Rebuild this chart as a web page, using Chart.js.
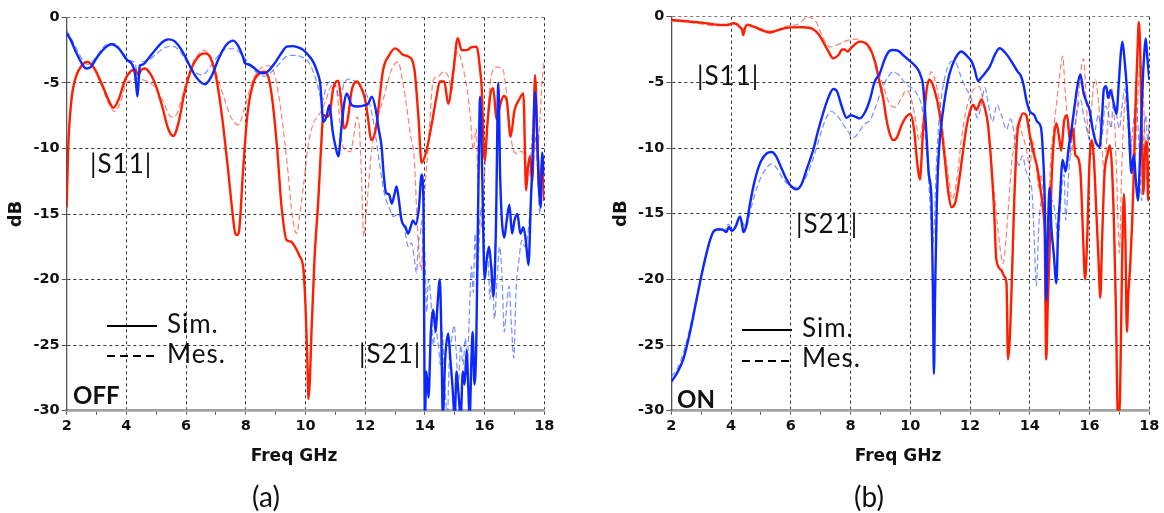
<!DOCTYPE html>
<html><head><meta charset="utf-8">
<script src="https://cdn.jsdelivr.net/npm/chart.js@4.4.0/dist/chart.umd.min.js"></script>
<style>
html,body{margin:0;padding:0;background:#fff;width:1164px;height:513px;overflow:hidden;position:relative}
canvas{position:absolute;top:0}
.t{position:absolute;line-height:1;white-space:nowrap;color:#111;font-family:Lato,sans-serif}
.lab{font-size:26px;letter-spacing:1px}
.b{font-weight:bold;font-size:24px}
.ax{font-family:"DejaVu Sans",sans-serif;font-weight:bold;font-size:17px;width:200px;text-align:center}
.cap{font-size:28px;width:100px;text-align:center}
.sl{position:absolute;height:2px;width:50px;background:#000}
.dl{position:absolute;height:2px;width:50px;background:repeating-linear-gradient(to right,#000 0 8px,transparent 8px 13px)}
</style></head><body>
<canvas id="c1" width="560" height="513" style="left:0"></canvas>
<canvas id="c2" width="559" height="513" style="left:605px"></canvas>

<div class="t lab" style="left:90px;top:150px">|S11|</div>
<div class="t lab" style="left:359px;top:340px">|S21|</div>
<div class="sl" style="left:107px;top:325px"></div>
<div class="t lab" style="left:167px;top:310px">Sim.</div>
<div class="dl" style="left:107px;top:355px"></div>
<div class="t lab" style="left:167px;top:340px">Mes.</div>
<div class="t b" style="left:73px;top:383px">OFF</div>
<div class="t ax" style="left:194px;top:447px">Freq GHz</div>
<div class="t cap" style="left:216px;top:482px">(a)</div>

<div class="t lab" style="left:697px;top:62px">|S11|</div>
<div class="t lab" style="left:796px;top:210px">|S21|</div>
<div class="sl" style="left:742px;top:329px"></div>
<div class="t lab" style="left:802px;top:314px">Sim.</div>
<div class="dl" style="left:742px;top:360px"></div>
<div class="t lab" style="left:802px;top:344px">Mes.</div>
<div class="t b" style="left:677px;top:387px">ON</div>
<div class="t ax" style="left:798px;top:447px">Freq GHz</div>
<div class="t cap" style="left:819px;top:482px">(b)</div>

<script>
// ---------- axis ----------
const xMin = 2, xMax = 18, xStep = 1;
const yMin = -30, yMax = 0, yStep = 5;

// ---------- OFF state ----------
const offS11SimF = [2.0,2.05,2.15,2.3,2.5,2.69,2.9,3.2,3.4,3.56,3.75,3.95,4.15,4.3,4.4,4.5,4.62,4.8,5.0,5.2,5.4,5.57,5.75,5.95,6.2,6.45,6.63,6.8,7.0,7.2,7.4,7.55,7.65,7.71,7.78,7.9,8.05,8.25,8.45,8.59,8.75,8.9,9.05,9.2,9.37,9.5,9.65,9.8,9.93,10.0,10.06,10.1,10.15,10.2,10.3,10.43,10.52,10.6,10.7,10.8,10.93,11.1,11.2,11.29,11.4,11.55,11.72,11.85,12.0,12.1,12.2,12.37,12.5,12.6,12.8,13.0,13.15,13.27,13.45,13.65,13.78,13.89,14.06,14.2,14.39,14.5,14.65,14.78,14.95,15.1,15.23,15.4,15.55,15.73,15.85,15.9,16.0,16.1,16.2,16.29,16.4,16.53,16.64,16.74,16.87,17.0,17.15,17.3,17.39,17.45,17.52,17.6,17.69,17.78,17.85,17.92,18.0];
const offS11SimDb = [-14.5,-10,-6.5,-4.6,-3.7,-3.4,-3.8,-5.2,-6.3,-6.9,-6.2,-4.8,-4.1,-4.0,-4.4,-4.0,-3.9,-4.3,-5.3,-6.8,-8.5,-9.05,-8.0,-5.7,-3.8,-2.9,-2.75,-3.0,-4.5,-7.5,-11.5,-14.8,-16.5,-16.6,-16.2,-12,-7.5,-5.0,-4.3,-4.15,-4.5,-6.5,-10,-14.5,-17.0,-17.1,-17.5,-18.2,-19.2,-22,-26,-29.1,-27.5,-24,-18.5,-13.9,-10,-7.45,-7.6,-7.45,-5.4,-4.83,-6.5,-8.47,-8.0,-5.55,-4.9,-5.3,-6.3,-7.8,-9.36,-8.34,-5.8,-4.0,-2.9,-2.37,-2.6,-2.87,-3.0,-4.0,-7.5,-11.1,-10.1,-8.5,-6.05,-4.9,-4.9,-6.6,-4.15,-1.6,-2.5,-2.5,-2.3,-2.24,-4.0,-5.3,-10.9,-8.0,-5.8,-5.4,-7.8,-6.6,-6.0,-6.3,-9.1,-7.1,-6.3,-5.8,-13.2,-11.5,-10.6,-12.5,-4.4,-10.3,-13.5,-11,-14];

const offS11MesF = [2.0,2.05,2.15,2.3,2.5,2.7,2.9,3.2,3.45,3.6,3.8,4.0,4.2,4.4,4.6,4.8,5.0,5.25,5.5,5.65,5.85,6.1,6.35,6.6,6.8,7.0,7.25,7.5,7.75,7.95,8.2,8.5,8.7,8.82,9.0,9.2,9.4,9.55,9.7,9.8,9.95,10.08,10.26,10.4,10.54,10.7,10.82,10.95,11.05,11.15,11.26,11.5,11.62,11.72,11.8,11.88,11.95,12.05,12.2,12.4,12.6,12.88,13.1,13.27,13.4,13.51,13.65,13.75,13.88,13.95,14.11,14.28,14.45,14.62,14.78,14.9,15.0,15.1,15.25,15.4,15.52,15.62,15.72,15.8,15.88,15.95,16.05,16.15,16.25,16.4,16.6,16.72,16.85,16.95,17.07,17.25,17.35,17.46,17.55,17.62,17.7,17.78,17.85,17.92,18.0];
const offS11MesDb = [-14.0,-9.5,-6.2,-4.6,-3.6,-3.4,-3.9,-5.4,-6.8,-7.2,-6.5,-5.0,-4.8,-4.6,-4.8,-5.0,-5.5,-6.5,-7.6,-7.5,-6.2,-4.2,-3.0,-2.5,-3.0,-4.2,-6.0,-7.6,-8.2,-7.0,-5.0,-3.9,-3.7,-3.7,-4.7,-7.5,-11.5,-15,-16.5,-15.2,-12.5,-9.9,-8.1,-7.6,-7.1,-6.2,-5.4,-5.0,-5.6,-8.0,-9.9,-10.25,-9.0,-7.6,-8.3,-12.5,-16.7,-14.5,-10.5,-7.8,-6.3,-4.0,-3.4,-5.1,-7.0,-8.85,-11,-16,-19.3,-15,-9.9,-4.8,-4.5,-4.15,-4.5,-5.6,-3.5,-2.6,-3.6,-5.3,-7.5,-10.1,-8.5,-15,-16,-14,-10,-6,-4.2,-3.8,-3.9,-5.5,-8.6,-10,-10.4,-10.2,-11,-12.4,-10.5,-8.5,-9.5,-10.2,-8,-5,-3.25];

const offS21SimF = [2.0,2.15,2.3,2.5,2.65,2.8,3.0,3.25,3.5,3.75,4.0,4.23,4.3,4.37,4.42,4.45,4.55,4.75,5.0,5.2,5.4,5.6,5.85,6.1,6.35,6.63,6.85,7.1,7.35,7.58,7.75,7.9,7.97,8.1,8.3,8.45,8.59,8.75,9.0,9.2,9.37,9.55,9.75,9.93,10.1,10.26,10.4,10.49,10.6,10.7,10.8,10.91,11.0,11.1,11.2,11.3,11.38,11.55,11.75,12.0,12.1,12.22,12.35,12.45,12.55,12.62,12.7,12.8,12.89,12.97,13.05,13.12,13.22,13.35,13.44,13.52,13.6,13.7,13.8,13.89,13.95,14.0,14.05,14.12,14.2,14.28,14.36,14.42,14.5,14.55,14.6,14.68,14.78,14.85,14.92,15.0,15.06,15.12,15.2,15.27,15.33,15.4,15.45,15.5,15.56,15.6,15.66,15.72,15.78,15.85,15.92,16.0,16.07,16.15,16.22,16.3,16.38,16.46,16.52,16.58,16.66,16.74,16.83,16.92,17.0,17.1,17.2,17.3,17.38,17.47,17.55,17.62,17.69,17.76,17.82,17.88,17.93,18.0];
const offS21SimDb = [-1.22,-1.8,-2.6,-3.5,-3.9,-3.8,-3.1,-2.4,-2.06,-2.4,-3.2,-3.77,-4.5,-6.05,-4.5,-3.7,-3.6,-3.1,-2.4,-1.9,-1.68,-1.8,-2.5,-3.6,-4.6,-5.1,-4.5,-3.1,-2.1,-1.78,-2.2,-3.0,-3.5,-3.6,-3.9,-4.2,-4.27,-4.1,-3.4,-2.7,-2.24,-2.2,-2.3,-2.5,-2.9,-3.4,-4.2,-5.0,-7.96,-7.6,-6.7,-8.7,-9.8,-10.6,-8.5,-6.5,-5.8,-6.7,-6.8,-6.7,-6.6,-6.05,-7.0,-8.5,-9.9,-12.0,-13.4,-13.5,-14.2,-13.6,-12.9,-13.8,-15.5,-16.0,-16.5,-16.0,-15.5,-15.8,-14.5,-12.0,-14.0,-30.5,-27,-29,-24,-22.3,-24,-22,-20.0,-24,-30.5,-26,-24.1,-26,-28,-30.5,-27,-28.5,-30.5,-27,-28,-25.4,-28,-30.5,-26,-24,-28,-25,-15,-6.05,-12,-20,-18.5,-17.5,-19,-21.3,-16,-5.0,-12,-15.5,-16.8,-15.5,-14.3,-16.5,-15.5,-15.0,-16.5,-16,-17,-18.9,-14,-10,-5.7,-9,-13,-14.5,-10.3,-12];

const offS21MesF = [2.0,2.15,2.35,2.55,2.7,2.9,3.15,3.4,3.6,3.85,4.1,4.3,4.38,4.45,4.7,5.0,5.3,5.55,5.8,6.05,6.3,6.55,6.8,7.05,7.35,7.6,7.85,8.1,8.35,8.6,8.85,9.1,9.35,9.6,9.85,10.1,10.3,10.45,10.55,10.7,10.85,11.0,11.15,11.3,11.5,11.7,11.9,12.1,12.3,12.5,12.65,12.8,12.95,13.1,13.3,13.45,13.55,13.65,13.72,13.78,13.85,13.9,14.0,14.06,14.12,14.2,14.28,14.36,14.45,14.52,14.58,14.66,14.75,14.82,14.9,14.98,15.05,15.12,15.2,15.28,15.35,15.42,15.5,15.56,15.62,15.68,15.75,15.82,15.88,15.95,16.02,16.1,16.18,16.25,16.33,16.42,16.5,16.58,16.66,16.74,16.82,16.9,16.98,17.05,17.15,17.25,17.35,17.45,17.55,17.62,17.7,17.78,17.85,17.92,18.0];
const offS21MesDb = [-1.0,-1.6,-2.5,-3.3,-3.6,-3.3,-2.5,-2.0,-2.0,-2.6,-3.3,-3.5,-5.2,-3.6,-3.3,-2.8,-2.3,-2.2,-2.6,-3.5,-4.2,-4.4,-3.8,-3.0,-2.4,-2.4,-2.8,-3.5,-4.2,-4.5,-4.2,-3.6,-3.0,-2.9,-3.0,-3.4,-4.4,-5.6,-6.5,-5.2,-4.9,-5.2,-6.2,-5.0,-4.7,-5.0,-5.5,-6.2,-8.3,-11.5,-13.5,-14.5,-15.2,-15.0,-16.0,-17.5,-17.2,-18.5,-19.5,-17.2,-16.5,-15.5,-18,-22.5,-20,-21.5,-25,-23.8,-25,-26.5,-24,-27.5,-30.5,-26,-24.5,-23.5,-25.5,-28,-25,-26.5,-24.5,-26,-22,-19,-21,-16.5,-20,-17,-14.5,-16,-18.8,-17.8,-21.5,-19,-23,-20,-17.5,-19.5,-24,-22,-20.5,-23.5,-26,-21,-18.5,-17,-17.5,-16.5,-14,-12,-9,-12,-15,-10.5,-13.5];

// ---------- ON state ----------
const onS11SimF = [2.0,2.5,3.0,3.5,3.85,4.1,4.3,4.37,4.41,4.46,4.55,4.8,5.05,5.3,5.6,5.85,6.08,6.4,6.75,6.95,7.08,7.25,7.42,7.6,7.72,7.8,7.9,8.05,8.31,8.5,8.65,8.8,8.98,9.1,9.2,9.31,9.43,9.55,9.7,9.87,10.0,10.12,10.25,10.32,10.42,10.55,10.65,10.8,10.99,11.15,11.28,11.38,11.5,11.6,11.75,11.88,12.0,12.1,12.22,12.38,12.5,12.6,12.72,12.8,12.88,13.05,13.15,13.22,13.27,13.33,13.4,13.48,13.58,13.68,13.77,13.88,14.0,14.13,14.25,14.38,14.45,14.5,14.55,14.6,14.66,14.72,14.8,14.89,15.0,15.05,15.15,15.25,15.35,15.45,15.52,15.6,15.7,15.78,15.85,15.92,16.0,16.08,16.15,16.22,16.3,16.36,16.42,16.5,16.6,16.68,16.75,16.82,16.88,16.95,17.02,17.08,17.15,17.2,17.25,17.3,17.36,17.42,17.48,17.55,17.6,17.65,17.7,17.75,17.8,17.86,17.92,17.96,18.0];
const onS11SimDb = [-0.25,-0.35,-0.45,-0.6,-0.63,-0.5,-0.8,-1.0,-1.4,-0.9,-0.6,-0.8,-1.05,-1.2,-1.0,-0.85,-0.81,-0.8,-0.95,-1.4,-1.9,-2.6,-3.17,-2.9,-2.5,-2.5,-2.65,-2.3,-1.9,-2.0,-2.4,-3.3,-5.07,-6.3,-7.8,-8.9,-9.4,-9.2,-8.3,-7.6,-7.4,-8.5,-11.5,-12.4,-9.0,-5.5,-4.8,-5.5,-7.5,-10.7,-13.5,-14.5,-14.2,-13.0,-10.5,-8.4,-7.2,-6.7,-7.1,-6.3,-7.0,-8.2,-11.5,-14.5,-18.5,-19.3,-19.8,-20.3,-26.1,-24.5,-20,-14,-9,-7.8,-7.36,-7.5,-9.0,-10.4,-11.5,-13.5,-14.8,-16.7,-26.1,-22,-18,-13,-9.5,-8.1,-9.5,-10.2,-7.9,-7.5,-9.5,-8.5,-10.5,-10.7,-12,-16.5,-20,-17,-11,-9.4,-11,-14.5,-18.5,-21.4,-17,-12,-10.5,-9.8,-11.5,-16,-22,-30.5,-29,-20,-13.5,-17,-24,-21,-19,-16,-12,-6,-3,-0.4,-3,-9.0,-13.5,-10,-9.5,-14,-11];

const onS11MesF = [2.0,2.5,3.0,3.5,3.9,4.2,4.4,4.6,5.0,5.3,5.6,5.9,6.2,6.4,6.53,6.7,6.85,7.0,7.15,7.31,7.5,7.7,7.9,8.2,8.5,8.75,8.95,9.1,9.3,9.5,9.7,9.87,10.0,10.15,10.3,10.42,10.55,10.7,10.85,11.0,11.15,11.3,11.4,11.55,11.7,11.88,12.1,12.3,12.42,12.6,12.75,12.9,13.0,13.1,13.2,13.3,13.4,13.5,13.62,13.75,13.88,14.0,14.1,14.2,14.3,14.38,14.48,14.55,14.62,14.7,14.8,14.9,15.0,15.1,15.18,15.28,15.38,15.48,15.56,15.65,15.75,15.8,15.88,15.96,16.05,16.12,16.2,16.3,16.4,16.5,16.58,16.66,16.75,16.85,16.92,17.0,17.07,17.14,17.22,17.3,17.4,17.48,17.56,17.62,17.7,17.78,17.85,17.92,18.0];
const onS11MesDb = [-0.3,-0.4,-0.55,-0.7,-0.65,-0.5,-0.9,-0.75,-0.9,-1.1,-1.0,-0.7,-0.6,-0.3,0,-0.1,-0.4,-1.2,-1.9,-2.3,-2.2,-2.0,-1.8,-1.7,-2.1,-3.0,-4.2,-5.3,-6.6,-6.9,-6.2,-5.6,-6.0,-7.5,-9.4,-8.0,-5.5,-4.2,-5.0,-6.8,-10,-12.5,-13.9,-12.5,-9.5,-7.0,-5.6,-5.3,-6.2,-8.5,-12,-15.5,-17.5,-18.8,-17,-14,-11,-9.5,-8.0,-9.0,-10,-11.5,-9.5,-11.0,-13,-12,-15,-19,-15,-11,-8.5,-6.5,-4.5,-3.0,-5.5,-8.5,-10.5,-9,-7.5,-5.5,-3.5,-3.2,-6,-9,-7.5,-5.5,-4.8,-6.5,-9.5,-12,-9,-6.5,-5.5,-8.5,-13,-18,-12,-8,-6,-7.5,-10,-12.5,-9,-6,-3.5,-5,-9,-12.5,-8];

const onS21SimF = [2.0,2.2,2.4,2.6,2.85,3.0,3.18,3.3,3.4,3.55,3.7,3.85,3.92,4.02,4.15,4.3,4.38,4.41,4.5,4.63,4.75,4.86,5.0,5.2,5.36,5.5,5.7,5.86,6.05,6.19,6.35,6.55,6.75,6.9,7.08,7.25,7.42,7.55,7.7,7.87,8.0,8.15,8.31,8.5,8.65,8.8,8.98,9.15,9.31,9.42,9.6,9.75,9.95,10.1,10.25,10.35,10.43,10.54,10.62,10.71,10.76,10.79,10.83,10.88,10.93,11.0,11.1,11.2,11.32,11.5,11.71,11.9,12.05,12.15,12.27,12.35,12.5,12.66,12.85,12.99,13.2,13.44,13.6,13.7,13.8,13.88,14.0,14.15,14.25,14.37,14.44,14.5,14.55,14.6,14.66,14.72,14.8,14.89,14.95,15.0,15.1,15.2,15.3,15.4,15.5,15.6,15.69,15.8,15.9,16.0,16.1,16.2,16.34,16.42,16.48,16.56,16.62,16.7,16.8,16.9,16.98,17.05,17.1,17.18,17.25,17.32,17.4,17.48,17.55,17.62,17.7,17.78,17.84,17.88,17.93,18.0];
const onS21SimDb = [-27.8,-27.1,-26.1,-24.3,-21.5,-19.8,-18.0,-17.0,-16.4,-16.2,-16.2,-16.4,-16.0,-16.3,-16.0,-15.2,-16.0,-16.4,-16.0,-14.3,-12.9,-11.9,-11.0,-10.4,-10.3,-10.6,-11.6,-12.4,-13.0,-13.15,-12.8,-11.5,-10.15,-8.8,-7.36,-6.2,-5.5,-5.7,-6.8,-7.7,-7.5,-7.6,-7.74,-7.2,-6.3,-5.0,-4.3,-3.2,-2.6,-2.54,-2.6,-2.9,-3.3,-3.6,-4.0,-4.5,-5.3,-8.9,-12,-14,-21.6,-27.2,-21,-15,-11.4,-9.0,-7.1,-5.6,-4.3,-3.2,-2.65,-3.0,-3.4,-4.0,-4.9,-4.7,-4.3,-3.8,-2.8,-2.4,-2.8,-3.6,-4.2,-4.5,-5.3,-6.3,-7.2,-7.5,-8.0,-8.4,-10.4,-14,-21.6,-17,-13,-16,-18,-20.3,-16,-14.2,-10.9,-11.8,-10.0,-8.5,-6.8,-5.2,-4.4,-5.8,-6.5,-7.1,-8.5,-9.5,-9.9,-7.5,-5.5,-5.3,-6.2,-5.6,-6.5,-7.4,-5.0,-2.7,-1.9,-3.5,-5.5,-8.5,-11.9,-10.5,-12.5,-14.0,-10.0,-5.0,-2.5,-1.65,-3.0,-4.8];

const onS21MesF = [2.0,2.2,2.4,2.6,2.85,3.0,3.18,3.3,3.45,3.6,3.8,3.9,4.05,4.2,4.35,4.5,4.7,4.9,5.1,5.36,5.55,5.75,5.95,6.15,6.35,6.55,6.75,6.95,7.15,7.35,7.5,7.7,7.9,8.1,8.25,8.45,8.65,8.85,9.05,9.25,9.42,9.6,9.78,9.95,10.1,10.25,10.4,10.5,10.6,10.68,10.74,10.8,10.86,10.94,11.05,11.2,11.38,11.55,11.7,11.88,12.0,12.12,12.25,12.35,12.5,12.6,12.75,12.9,13.05,13.22,13.35,13.45,13.55,13.63,13.75,13.88,14.0,14.08,14.15,14.22,14.3,14.4,14.5,14.58,14.66,14.75,14.85,14.95,15.05,15.15,15.2,15.3,15.4,15.5,15.6,15.7,15.8,15.9,16.0,16.1,16.2,16.3,16.42,16.52,16.62,16.72,16.8,16.9,17.0,17.08,17.18,17.28,17.35,17.45,17.55,17.65,17.75,17.82,17.88,17.95,18.0];
const onS21MesDb = [-27.4,-26.8,-25.6,-23.9,-21.3,-19.7,-17.9,-16.9,-16.3,-16.1,-16.3,-15.8,-16.1,-15.8,-15.6,-16.0,-14.3,-12.8,-11.8,-11.2,-11.6,-12.4,-12.8,-13.0,-12.8,-12.0,-10.8,-9.3,-7.9,-7.2,-7.4,-8.0,-8.7,-9.2,-8.9,-8.2,-7.9,-6.8,-5.5,-4.6,-4.2,-4.4,-4.9,-5.3,-5.5,-6.0,-7.0,-9.0,-12,-15,-17.5,-16,-12,-8.5,-6.0,-4.2,-3.4,-3.6,-4.6,-5.5,-6.0,-6.8,-7.7,-7.0,-5.4,-6.5,-8.0,-6.7,-7.5,-8.6,-7.8,-8.5,-10.5,-11.3,-10.6,-11.8,-12.5,-13.5,-17,-20.5,-16,-14,-16,-18,-15,-14,-15,-17,-13.5,-12,-15.5,-12,-9.5,-8.5,-7,-6.3,-7.5,-8.5,-9.5,-10.5,-8.5,-7.5,-9,-6.8,-7.2,-8.5,-6.5,-7.5,-8.5,-7,-5.5,-8,-10.5,-8.5,-6.5,-9.5,-14,-9,-7.5,-9.5,-8];

// ---------- build ----------
const pts = (f, v) => f.map((x, i) => ({x: x, y: v[i]}));
const RED = '#ff1f00', BLUE = '#0a28ff';
const RED_M = 'rgba(255,75,55,0.7)', BLUE_M = 'rgba(45,85,255,0.65)';

function sets(s11s, s11m, s21s, s21m) {
  const base = {pointRadius: 0, cubicInterpolationMode: 'monotone', fill: false};
  return [
    Object.assign({label: '|S21| Sim.', data: s21s, borderColor: BLUE, borderWidth: 2.4, order: 0}, base),
    Object.assign({label: '|S11| Sim.', data: s11s, borderColor: RED, borderWidth: 2.4, order: 1}, base),
    Object.assign({label: '|S21| Mes.', data: s21m, borderColor: BLUE_M, borderWidth: 1.2, borderDash: [6, 3], order: 2}, base),
    Object.assign({label: '|S11| Mes.', data: s11m, borderColor: RED_M, borderWidth: 1.2, borderDash: [6, 3], order: 3}, base)
  ];
}

const tickFont = {family: 'DejaVu Sans', size: 14.5, weight: 'bold'};
function makeChart(id, area, datasets) {
  const cv = document.getElementById(id);
  const W = cv.width, H = cv.height;
  return new Chart(cv, {
    type: 'line',
    data: {datasets: datasets},
    options: {
      responsive: false, animation: false,
      layout: {padding: {left: 0, top: area.top, right: W - area.right, bottom: 0}},
      plugins: {legend: {display: false}, tooltip: {enabled: false}},
      scales: {
        x: {
          type: 'linear', min: xMin, max: xMax,
          afterFit: s => { s.height = H - area.bottom; },
          ticks: {stepSize: xStep, autoSkip: false, maxRotation: 0, padding: 3, color: '#111', font: tickFont,
                  callback: v => (v % 2 === 0 ? String(v) : '')},
          grid: {color: c => (c.tick && c.tick.value % 2 === 0 && c.tick.value !== xMin) ? '#333' : 'rgba(0,0,0,0)',
                 lineWidth: 1, tickColor: '#555', tickLength: 4},
          border: {display: true, color: '#a3a3a3', width: 2.7, dash: [3, 3]}
        },
        y: {
          min: yMin, max: yMax,
          afterFit: s => { s.width = area.left; },
          ticks: {stepSize: yStep, padding: 2, color: '#111', font: tickFont},
          grid: {color: c => (c.tick && c.tick.value === yMin) ? 'rgba(0,0,0,0)' : (c.tick && c.tick.value === yMax ? '#777' : '#333'),
                 lineWidth: 1, tickColor: '#555', tickLength: 5},
          border: {display: true, color: '#555', width: 1.3, dash: [3, 3]},
          title: {display: true, text: 'dB', color: '#111', font: {family: 'DejaVu Sans', size: 18, weight: 'bold'}, padding: {top: 5.5, bottom: 0}}
        }
      }
    }
  });
}

makeChart('c1', {left: 66.7, right: 544.3, top: 17.3, bottom: 410.7},
  sets(pts(offS11SimF, offS11SimDb), pts(offS11MesF, offS11MesDb), pts(offS21SimF, offS21SimDb), pts(offS21MesF, offS21MesDb)));
makeChart('c2', {left: 66.3, right: 544.3, top: 16.7, bottom: 410.7},
  sets(pts(onS11SimF, onS11SimDb), pts(onS11MesF, onS11MesDb), pts(onS21SimF, onS21SimDb), pts(onS21MesF, onS21MesDb)));
</script>
</body></html>
